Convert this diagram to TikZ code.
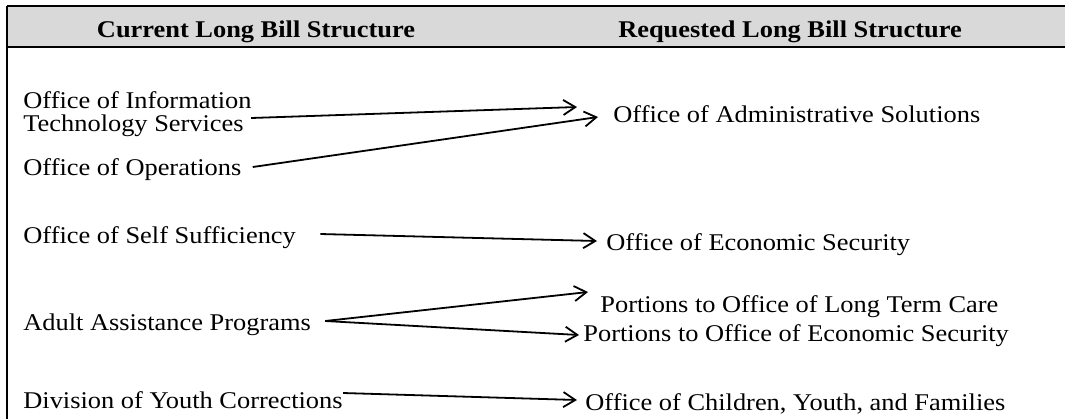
\documentclass[tikz,border=0pt]{standalone}
\usepackage{fontspec}
\setmainfont{Liberation Serif}
\usetikzlibrary{arrows.meta, calc}
\definecolor{hdrgray}{RGB}{217,217,217}
\newcommand{\widetxt}[1]{\scalebox{1.1}[1]{#1}}
\tikzset{
  hdr/.style={font=\fontsize{12}{14}\selectfont\bfseries, inner sep=0pt, anchor=base},
  item/.style={font=\fontsize{12}{14}\selectfont, inner sep=0pt, anchor=base west},
  arr/.style={-{Straight Barb[length=6pt, width=7.5pt, line width=0.9pt]}, line width=0.9pt},
  rule/.style={line width=1pt},
}

\begin{document}
\begin{tikzpicture}[x=0.5pt, y=-0.5pt]
  \useasboundingbox (0,0) rectangle (1065,419);

  % ─── Header band ──────────────────────────────────────────
  \fill[hdrgray] (7,6) rectangle (1065,47);
  \draw[rule] (7,6) -- (1065,6);
  \draw[rule] (7,47) -- (1065,47);
  \draw[rule] (7,6) -- (7,419);
  \node[hdr] (hcur) at (256,37) {\widetxt{Current Long Bill Structure}};
  \node[hdr] (hreq) at (790,37) {\widetxt{Requested Long Bill Structure}};

  % ─── Current structure (left) ─────────────────────────────
  \node[item] (info)  at (23,108) {\widetxt{Office of Information}};
  \node[item] (tech)  at (23,131) {\widetxt{Technology Services}};
  \node[item] (oper)  at (23,175) {\widetxt{Office of Operations}};
  \node[item] (self)  at (23,243) {\widetxt{Office of Self Sufficiency}};
  \node[item] (adult) at (23,330) {\widetxt{Adult Assistance Programs}};
  \node[item] (youth) at (23,408) {\widetxt{Division of Youth Corrections}};

  % ─── Requested structure (right) ──────────────────────────
  \node[item] (admin) at (613,122) {\widetxt{Office of Administrative Solutions}};
  \node[item] (econ)  at (606,250) {\widetxt{Office of Economic Security}};
  \node[item] (ltc)   at (600,312) {\widetxt{Portions to Office of Long Term Care}};
  \node[item] (econb) at (583,341) {\widetxt{Portions to Office of Economic Security}};
  \node[item] (cyf)   at (585,410) {\widetxt{Office of Children, Youth, and Families}};

  % ─── Mapping arrows ───────────────────────────────────────
  \draw[arr] ($(tech.base east)+(7,-13)$)   -- ($(admin.base west)+(-36,-15)$);
  \draw[arr] ($(oper.base east)+(11,-8)$)   -- ($(admin.base west)+(-15,-5)$);
  \draw[arr] ($(self.base east)+(24,-9)$)   -- ($(econ.base west)+(-9,-9)$);
  \draw[arr] ($(adult.base east)+(14,-9)$)  -- ($(ltc.base west)+(-12,-20)$);
  \draw[arr] ($(adult.base east)+(14,-9)$)  -- ($(econb.base west)+(-4,-6)$);
  \draw[arr] ($(youth.base east)+(0,-15)$)  -- ($(cyf.base west)+(-8,-10)$);

\end{tikzpicture}
\end{document}
